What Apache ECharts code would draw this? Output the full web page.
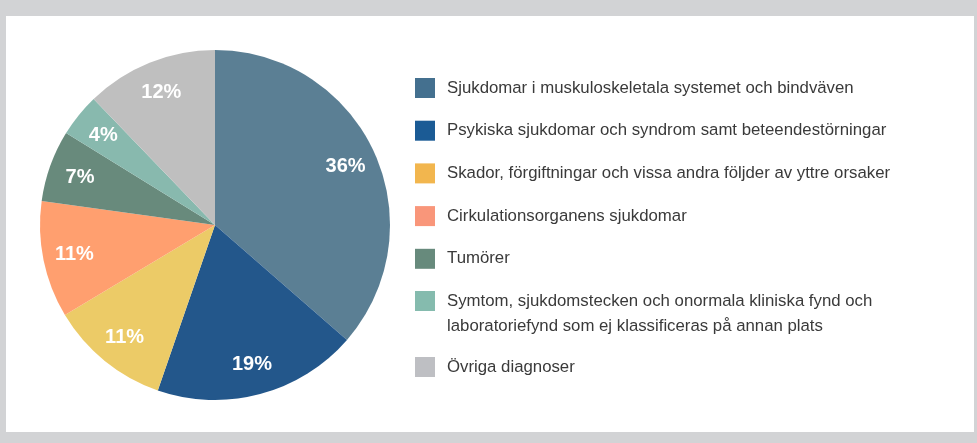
<!DOCTYPE html>
<html>
<head>
<meta charset="utf-8">
<script src="https://cdn.jsdelivr.net/npm/echarts@6/dist/echarts.min.js"></script>
<style>
html,body{margin:0;padding:0;background:#d2d3d5;}
#wrap{position:absolute;left:6px;top:16px;width:968px;height:416px;background:#ffffff;}
#chart{position:absolute;left:-6px;top:-16px;width:977px;height:443px;}
</style>
</head>
<body>
<div id="wrap"><div id="chart"></div></div>
<script>
const categories = [
  'Sjukdomar i muskuloskeletala systemet och bindväven',
  'Psykiska sjukdomar och syndrom samt beteendestörningar',
  'Skador, förgiftningar och vissa andra följder av yttre orsaker',
  'Cirkulationsorganens sjukdomar',
  'Tumörer',
  'Symtom, sjukdomstecken och onormala kliniska fynd och\nlaboratoriefynd som ej klassificeras på annan plats',
  'Övriga diagnoser'
];
const shares = [36.4, 18.9, 11.1, 10.8, 6.6, 4.0, 12.2];
const sliceColors = ['#5b7f94', '#23578b', '#eccb67', '#ff9f6f', '#688a7c', '#88b9ae', '#bfbfbf'];
const legendColors = ['#44708f', '#1b5b95', '#f2b64e', '#f9967a', '#678a7c', '#85bbae', '#bebfc3'];

const FONT = 'Liberation Sans, Arial, sans-serif';
const chart = echarts.init(document.getElementById('chart'), null, {renderer: 'canvas'});
const data = categories.map((c, i) => ({name: c, value: shares[i], itemStyle: {color: sliceColors[i]}}));
const legItem = i => ({name: categories[i], itemStyle: {color: legendColors[i]}});
const legBase = {
  orient: 'vertical', left: 410, icon: 'rect', itemWidth: 20, itemHeight: 20,
  selectedMode: false,
  formatter: name => name.split('\n')[0],
  textStyle: {fontFamily: FONT, fontSize: 16.8, color: '#3a3a3a', lineHeight: 22, padding: [0, 0, 0, 7]}
};
chart.setOption({
  animation: false,
  legend: [
    Object.assign({}, legBase, {top: 72, itemGap: 20.7, data: [0,1,2,3,4].map(legItem)}),
    Object.assign({}, legBase, {top: 285, data: [legItem(5)]}),
    Object.assign({}, legBase, {top: 351, data: [legItem(6)]})
  ],
  graphic: [{
    type: 'text', left: 447, top: 315,
    style: {text: categories[5].split('\n')[1], fontFamily: FONT, fontSize: 16.8, fill: '#3a3a3a', lineHeight: 22}
  }],
  series: [
    {
      type: 'pie', center: [215, 225], radius: [0, 175], startAngle: 90, clockwise: true,
      silent: true, data: data, label: {show: false}, labelLine: {show: false}
    },
    {
      type: 'pie', center: [215, 226], radius: [106, 175], startAngle: 90, clockwise: true,
      silent: true, legendHoverLink: false,
      data: categories.map((c, i) => ({name: c, value: shares[i]})),
      itemStyle: {color: 'rgba(0,0,0,0)'},
      label: {
        show: true, position: 'inside', color: '#ffffff', fontWeight: 'bold',
        fontSize: 20, fontFamily: FONT,
        formatter: p => Math.round(p.value) + '%'
      },
      labelLine: {show: false}
    }
  ]
});
</script>
</body>
</html>
